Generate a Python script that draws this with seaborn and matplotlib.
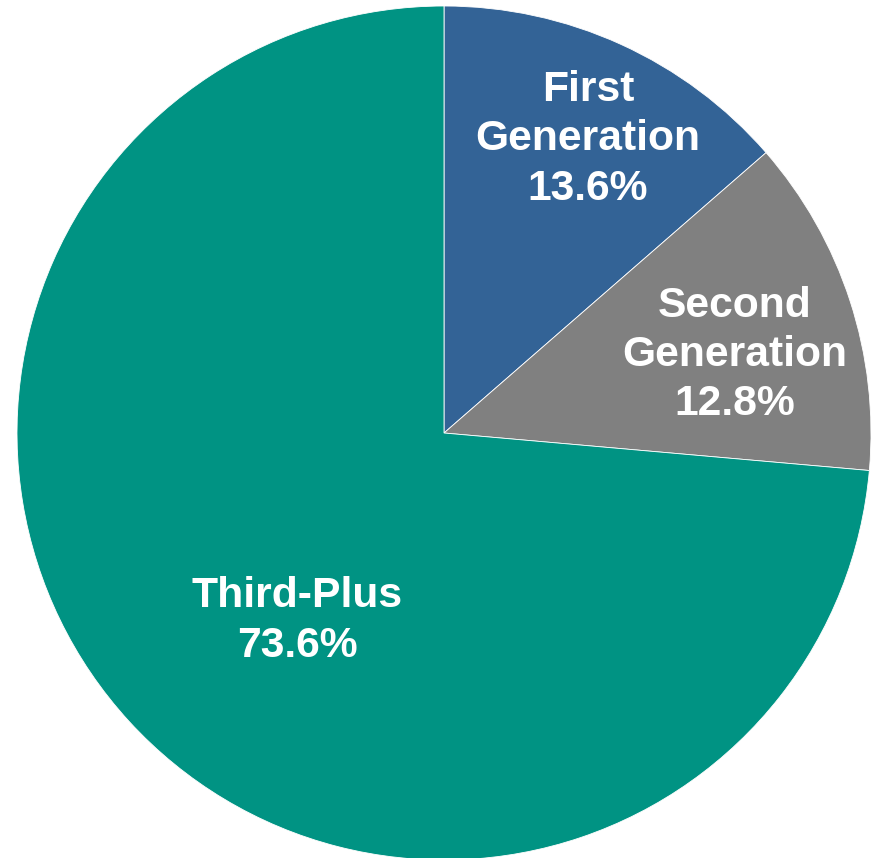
import matplotlib
matplotlib.use("Agg")
import matplotlib.pyplot as plt
import seaborn as sns

# Data
categories = ["First\nGeneration", "Second\nGeneration", "Third-Plus"]
shares = [13.6, 12.8, 73.6]
colors = ["#336396", "#808080", "#009383"]
# label anchor points (data coords, pie radius = 1)
label_pos = [(0.337, 0.688), (0.681, 0.183), (-0.344, -0.440)]


def main():
    sns.set_theme(style="white")
    plt.rcParams["font.family"] = ["Liberation Sans", "DejaVu Sans"]

    fig = plt.figure(figsize=(8.77, 8.58), dpi=100)
    ax = fig.add_axes([0, 0, 1, 1])

    ax.pie(
        shares,
        colors=colors,
        startangle=90,
        counterclock=False,
        radius=1.0,
        wedgeprops={"edgecolor": "white", "linewidth": 0.6},
    )

    for name, val, (x, y) in zip(categories, shares, label_pos):
        ax.text(
            x, y, f"{name}\n{val:.1f}%",
            ha="center", va="center",
            color="white", fontsize=30.7, fontweight="bold",
            linespacing=1.30,
        )

    # map the pie so that the centre sits at (444, 433) px with radius 427 px
    r = 427
    ax.set_xlim(-444 / r, (877 - 444) / r)
    ax.set_ylim(-(858 - 433) / r, 433 / r)
    ax.set_aspect("auto")
    ax.axis("off")

    fig.savefig("out.png", dpi=100, facecolor="white")


if __name__ == "__main__":
    main()
